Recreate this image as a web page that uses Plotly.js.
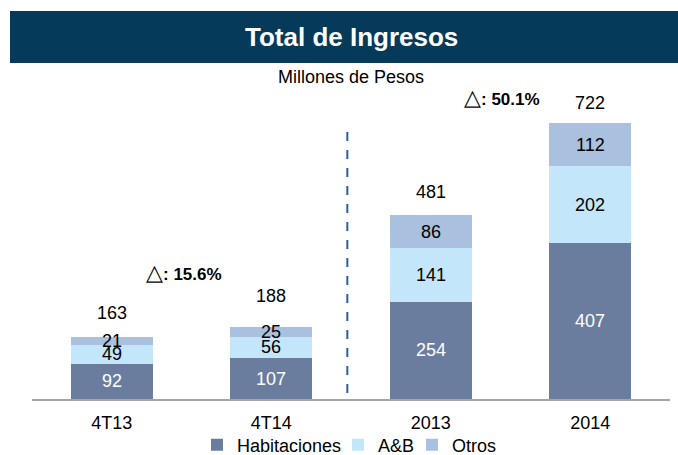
<!DOCTYPE html>
<html>
<head>
<meta charset="utf-8">
<script src="https://cdn.plot.ly/plotly-3.0.1.min.js"></script>
<style>html,body{margin:0;padding:0;background:#fff;}#chart{width:678px;height:455px;}</style>
</head>
<body>
<div id="chart"></div>
<script>
var categories = ["4T13", "4T14", "2013", "2014"];
var habitaciones = [92, 107, 254, 407];
var ayb = [49, 56, 141, 202];
var otros = [21, 25, 86, 112];
var totals = [163, 188, 481, 722];
var seriesNames = ["Habitaciones", "A&B", "Otros"];
var deltaValues = ["15.6%", "50.1%"];
var chartTitle = "Total de Ingresos";
var subtitle = "Millones de Pesos";

var colors = ["#6b7d9f", "#c3e6fa", "#a9c0df"];
var textColors = ["#ffffff", "#000000", "#000000"];
var totalOffsets = [24, 31, 23, 20];
var legendIds = ["legend", "legend2", "legend3"];
var legendTextStart = [237, 378, 452];
var FONT = "Liberation Sans, Arial, sans-serif";

// plot geometry (pixels)
var PL = 32, PR = 670, PT = 100, PB = 399;
var PW = PR - PL, PH = PB - PT;
function px2paperX(px) { return (px - PL) / PW; }
function px2paperY(py) { return (PB - py) / PH; }

var series = [habitaciones, ayb, otros];
var traces = series.map(function (vals, i) {
  return {
    type: "bar",
    x: categories,
    y: vals,
    name: seriesNames[i],
    legend: legendIds[i],
    marker: { color: colors[i], line: { width: 0 } },
    hoverinfo: "none"
  };
});

var annotations = [];
categories.forEach(function (c, ci) {
  var base = 0;
  series.forEach(function (vals, si) {
    annotations.push({
      x: ci, y: base + vals[ci] / 2, xref: "x", yref: "y",
      text: String(vals[ci]), showarrow: false,
      font: { family: FONT, size: 18, color: textColors[si] },
      xanchor: "center", yanchor: "middle"
    });
    base += vals[ci];
  });
  annotations.push({
    x: ci, y: totals[ci], xref: "x", yref: "y",
    text: String(totals[ci]), showarrow: false,
    font: { family: FONT, size: 18, color: "#000" },
    xanchor: "center", yanchor: "middle", yshift: totalOffsets[ci]
  });
});

function deltaText(v) {
  return "<span style='font-size:22px;font-weight:normal'>△</span><b>: " + v + "</b>";
}
annotations.push({
  x: px2paperX(184), y: px2paperY(272), xref: "paper", yref: "paper",
  text: deltaText(deltaValues[0]), showarrow: false,
  font: { family: FONT, size: 17, color: "#000" }, xanchor: "center", yanchor: "middle"
});
annotations.push({
  x: px2paperX(502), y: px2paperY(97), xref: "paper", yref: "paper",
  text: deltaText(deltaValues[1]), showarrow: false,
  font: { family: FONT, size: 17, color: "#000" }, xanchor: "center", yanchor: "middle"
});
annotations.push({
  x: px2paperX(351), y: px2paperY(37), xref: "paper", yref: "paper",
  text: "<b>" + chartTitle + "</b>", showarrow: false,
  font: { family: FONT, size: 26, color: "#ffffff" }, xanchor: "center", yanchor: "middle"
});
annotations.push({
  x: px2paperX(351), y: px2paperY(77), xref: "paper", yref: "paper",
  text: subtitle, showarrow: false,
  font: { family: FONT, size: 18, color: "#000" }, xanchor: "center", yanchor: "middle"
});

var layout = {
  width: 678, height: 455,
  margin: { l: PL, r: 678 - PR, t: PT, b: 455 - PB, autoexpand: false },
  paper_bgcolor: "#ffffff", plot_bgcolor: "#ffffff",
  barmode: "stack",
  bargap: 0.486,
  showlegend: true,
  xaxis: {
    type: "category", range: [-0.5, 3.5], fixedrange: true,
    showline: true, linecolor: "#a6a6a6", linewidth: 1.5,
    ticks: "outside", ticklen: 7, tickcolor: "rgba(0,0,0,0)",
    tickfont: { family: FONT, size: 18, color: "#000" },
    showgrid: false, zeroline: false
  },
  yaxis: {
    range: [0, 782], visible: false, showgrid: false, zeroline: false, fixedrange: true
  },
  shapes: [
    {
      type: "rect", xref: "paper", yref: "paper",
      x0: px2paperX(10), x1: px2paperX(680),
      y0: px2paperY(63), y1: px2paperY(11),
      fillcolor: "#063a5a", line: { width: 0 }, layer: "below"
    },
    {
      type: "line", xref: "x", yref: "paper",
      x0: 1.477, x1: 1.477, y0: px2paperY(393), y1: px2paperY(130),
      line: { color: "#2d5f9e", width: 2, dash: "dash" }
    }
  ],
  annotations: annotations,
  font: { family: FONT }
};

legendIds.forEach(function (id, i) {
  layout[id] = {
    orientation: "h", xanchor: "left", yanchor: "middle",
    x: px2paperX(legendTextStart[i] - 40), y: px2paperY(445),
    font: { family: FONT, size: 18, color: "#000" },
    bgcolor: "rgba(0,0,0,0)", borderwidth: 0, itemwidth: 30
  };
});

Plotly.newPlot("chart", traces, layout, { displayModeBar: false, staticPlot: true });
</script>
</body>
</html>
